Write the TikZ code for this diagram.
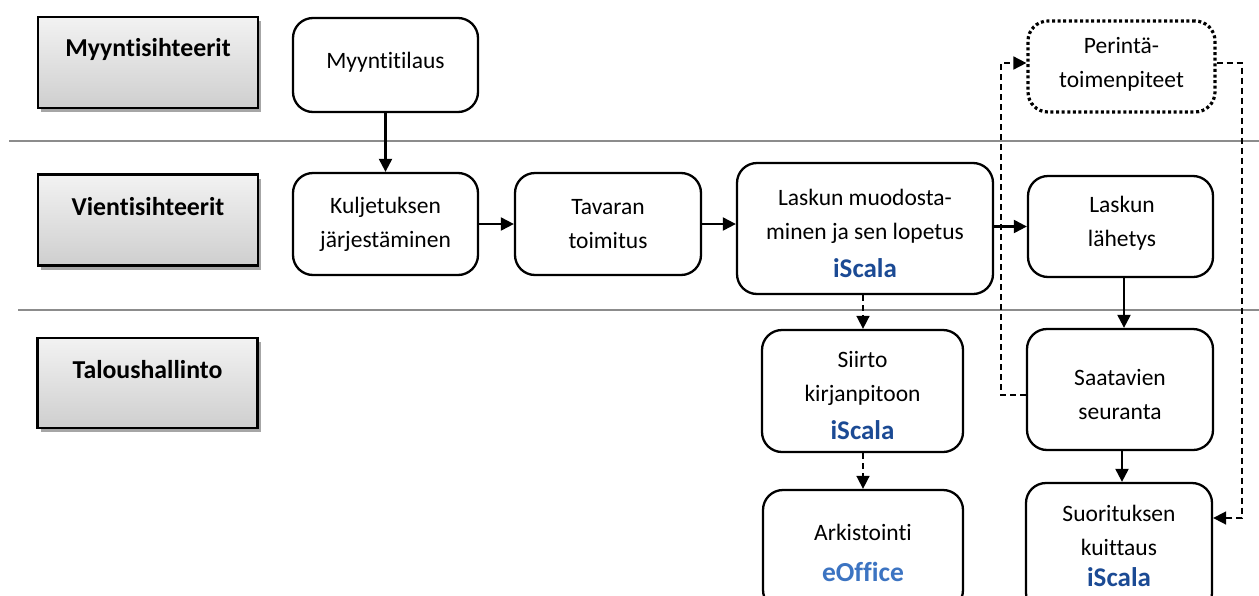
\documentclass[tikz,border=0pt]{standalone}
\usepackage{fontspec}
\setmainfont{Carlito}[RawFeature={-liga}]
\usetikzlibrary{arrows.meta,shadows}
\definecolor{scalablue}{HTML}{1B4A94}
\definecolor{officeblue}{HTML}{3C74C2}
\definecolor{lanegray}{HTML}{8C8C8C}
\tikzset{
  proc/.style={draw=black, line width=2.3pt, rounded corners=20pt, fill=white, inner sep=0pt},
  lanebox/.style={draw=black, line width=2.3pt, top color=gray!10, bottom color=gray!38,
    drop shadow={shadow xshift=3pt, shadow yshift=-4pt, opacity=0.35, fill=black}},
  lanetext/.style={font=\fontsize{25.8}{30}\selectfont\bfseries, inner sep=0pt},
  ptext/.style={font=\fontsize{23.5}{34}\selectfont, align=center, inner sep=0pt},
  scala/.style={font=\fontsize{27}{30}\selectfont\bfseries, text=scalablue, inner sep=0pt},
  office/.style={font=\fontsize{27.5}{30}\selectfont\bfseries, text=officeblue, inner sep=0pt},
  flow/.style={line width=2.2pt, -{Triangle[length=13pt,width=13pt]}},
  dflow/.style={line width=1.7pt, dash pattern=on 6pt off 4pt, -{Triangle[length=13pt,width=13pt]}},
  lane/.style={draw=lanegray, line width=1.6pt},
}
\begin{document}
\begin{tikzpicture}[x=1pt,y=-1pt]
\useasboundingbox (0,0) rectangle (1259,595);
\clip (0,0) rectangle (1259,595);
% lane separators
\coordinate (l1a) at (9,141); \coordinate (l1b) at (1259,141);
\coordinate (l2a) at (18,310); \coordinate (l2b) at (1259,310);
\draw[lane] (l1a) -- (l1b);
\draw[lane] (l2a) -- (l2b);
% lane label boxes
\node[lanebox, minimum width=220pt, minimum height=91pt] (lab1) at (148,62.5) {};
\node[lanetext] (lab1t) at (148,49) {Myyntisihteerit};
\node[lanebox, minimum width=220pt, minimum height=91pt] (lab2) at (148,220) {};
\node[lanetext] (lab2t) at (148,207) {Vientisihteerit};
\node[lanebox, minimum width=220pt, minimum height=90pt] (lab3) at (147.5,383) {};
\node[lanetext] (lab3t) at (147.5,370) {Taloushallinto};
% process boxes
\node[proc, minimum width=185pt, minimum height=94pt] (myt) at (385.5,65) {};
\node[ptext] at (385.5,62) {Myyntitilaus};
\node[proc, minimum width=185pt, minimum height=102pt] (kul) at (385.5,224) {};
\node[ptext] (kult) at (385.5,224) {Kuljetuksen\\järjestäminen};
\node[proc, minimum width=186pt, minimum height=102pt] (tav) at (608,224) {};
\node[ptext] (tavt) at (608,224) {Tavaran\\toimitus};
\node[proc, minimum width=256pt, minimum height=131pt] (lmu) at (865,228.5) {};
\node[ptext] (lmut) at (865,216) {Laskun muodosta-\\minen ja sen lopetus};
\node[scala] (lmus) at (865,268) {iScala};
\node[proc, minimum width=185pt, minimum height=101pt] (lla) at (1120.5,226.5) {};
\node[ptext] (llat) at (1122,223) {Laskun\\lähetys};
\node[proc, minimum width=187pt, minimum height=91pt, line width=3.2pt, dash pattern=on 3pt off 2.6pt] (per) at (1121.5,66.5) {};
\node[ptext] (pert) at (1121.5,64) {Perintä-\\toimenpiteet};
\node[proc, minimum width=201pt, minimum height=122pt] (sii) at (862.5,391) {};
\node[ptext] (siit) at (862.5,378) {Siirto\\kirjanpitoon};
\node[scala] (siis) at (862.5,430) {iScala};
\node[proc, minimum width=200pt, minimum height=120pt] (ark) at (863,550) {};
\node[ptext] (arkt) at (863,532) {Arkistointi};
\node[office] (arko) at (863,572) {eOffice};
\node[proc, minimum width=186pt, minimum height=130pt] (suo) at (1119,548) {};
\node[ptext] (suot) at (1119,530) {Suorituksen\\kuittaus};
\node[scala] (suos) at (1119,577) {iScala};
\node[proc, minimum width=186pt, minimum height=121pt] (saa) at (1120,389.5) {};
\node[ptext] (saat) at (1120,394) {Saatavien\\seuranta};
% solid flows
\draw[flow] (myt.south) -- (kul.north);
\draw[flow] (kul.east) -- (tav.west);
\draw[flow] (tav.east) -- (lmu.west |- tav.east);
\draw[flow] (lmu.east |- lla.west) -- (lla.west);
\draw[flow] (lla.south -| 1124,0) -- (saa.north -| 1124,0);
\draw[flow] (saa.south -| 1122,0) -- (suo.north -| 1122,0);
% dashed flows
\draw[dflow] (lmu.south -| 863,0) -- (sii.north -| 863,0);
\draw[dflow] (sii.south -| 863,0) -- (ark.north -| 863,0);
\coordinate (dl1) at (1001,395);
\coordinate (dl2) at (1001,63);
\draw[dflow] (saa.west |- dl1) -- (dl1) -- (dl2) -- (per.west |- dl2);
\coordinate (dr1) at (1242,63);
\coordinate (dr2) at (1242,518);
\draw[dflow] (per.east |- dr1) -- (dr1) -- (dr2) -- (suo.east |- dr2);
\end{tikzpicture}
\end{document}
